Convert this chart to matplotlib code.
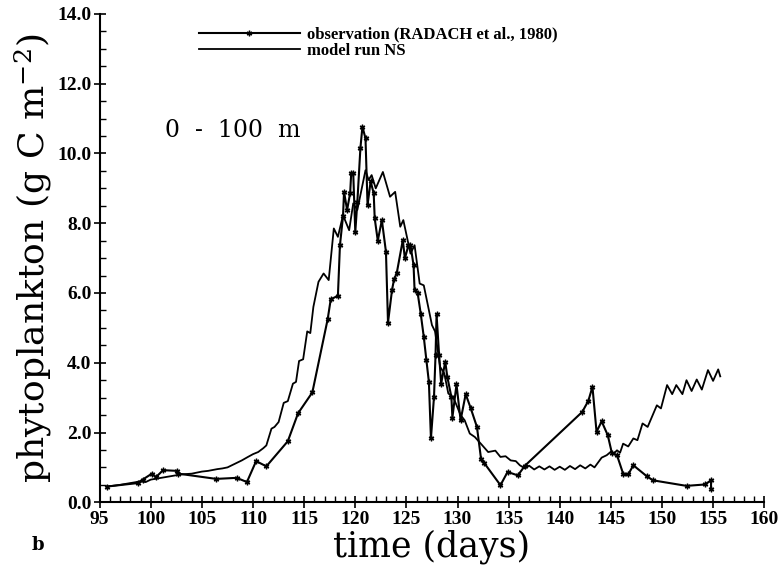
import matplotlib
matplotlib.use('Agg')
import matplotlib.pyplot as plt
from matplotlib.ticker import MultipleLocator, FormatStrFormatter

# observation (RADACH et al., 1980)
obs_day = [95.7, 98.7, 99.2, 100.1, 100.5, 101.2, 102.6, 102.7, 106.4, 108.4, 109.4,
           110.3, 111.3, 113.4, 114.4, 115.8, 117.3, 117.6, 118.3, 118.5, 118.8, 118.9,
           119.2, 119.5, 119.6, 119.8, 120.0, 120.2, 120.5, 120.7, 121.0, 121.2, 121.5,
           121.8, 121.9, 122.2, 122.6, 123.0, 123.2, 123.6, 123.8, 124.05, 124.65, 124.85,
           125.2, 125.4, 125.7, 125.8, 126.1, 126.4, 126.7, 126.95, 127.2, 127.4, 127.7,
           127.85, 127.95, 128.2, 128.4, 128.8, 129.0, 129.4, 129.5, 129.9, 130.3, 130.8,
           131.3, 131.9, 132.3, 132.6, 134.2, 134.9, 135.9, 136.6, 142.2, 142.8, 143.2,
           143.6, 144.1, 144.7, 145.1, 145.6, 146.2, 146.7, 147.2, 148.5, 149.1, 152.4,
           154.2, 154.8, 154.8]
obs_val = [0.45, 0.55, 0.65, 0.82, 0.72, 0.92, 0.90, 0.82, 0.67, 0.70, 0.58,
           1.18, 1.03, 1.75, 2.55, 3.15, 5.25, 5.82, 5.92, 7.37, 8.2, 8.9,
           8.38, 8.87, 9.43, 9.43, 7.75, 8.6, 10.15, 10.77, 10.43, 8.52, 9.2,
           8.86, 8.14, 7.5, 8.09, 7.18, 5.15, 6.1, 6.4, 6.56, 7.52, 6.99,
           7.37, 7.37, 6.8, 6.08, 6.0, 5.41, 4.74, 4.09, 3.45, 1.83, 3.02,
           4.22, 5.39, 4.22, 3.4, 4.03, 3.6, 3.02, 2.43, 3.38, 2.35, 3.1,
           2.69, 2.16, 1.25, 1.13, 0.49, 0.87, 0.77, 1.05, 2.59, 2.91, 3.31,
           2.02, 2.32, 1.92, 1.41, 1.35, 0.82, 0.8, 1.06, 0.75, 0.63, 0.47,
           0.51, 0.63, 0.39]

# model run NS
mod_day = [95.7, 97.0, 98.0, 99.0, 99.5, 100.0, 101.0, 102.0, 103.0, 104.0, 105.0,
           105.6, 106.5, 107.0, 107.5, 108.2, 108.9, 109.5, 110.0, 110.5, 111.0, 111.3,
           111.8, 112.1, 112.5, 113.0, 113.4, 113.9, 114.2, 114.5, 114.9, 115.3, 115.6,
           115.9, 116.4, 116.9, 117.4, 117.9, 118.3, 118.8, 119.4, 119.8, 120.2, 120.6,
           121.0, 121.3, 121.6, 122.0, 122.7, 123.4, 123.9, 124.4, 124.7, 125.4, 125.8,
           126.3, 126.7, 127.5, 127.8, 128.3, 128.7, 129.1, 129.6, 130.3, 130.7, 131.2,
           131.7, 132.4, 133.0, 133.7, 134.2, 134.7, 135.2, 135.7, 136.1, 136.6, 137.0,
           137.5, 138.0, 138.5, 139.0, 139.5, 140.0, 140.5, 141.0, 141.5, 142.0, 142.5,
           143.0, 143.4, 143.9, 144.1, 144.6, 145.0, 145.3, 145.6, 145.9, 146.2, 146.7,
           147.2, 147.6, 148.1, 148.6, 149.5, 149.9, 150.5, 151.0, 151.4, 152.0, 152.4,
           152.9, 153.4, 153.9, 154.5, 155.0, 155.5, 155.7]
mod_val = [0.45, 0.5, 0.55, 0.6, 0.58, 0.65, 0.7, 0.75, 0.8, 0.82, 0.88,
           0.9, 0.95, 0.97, 1.0, 1.1, 1.2, 1.3, 1.38, 1.44, 1.55, 1.63,
           2.11, 2.16, 2.3, 2.85, 2.9, 3.4, 3.45, 4.05, 4.1, 4.9, 4.85,
           5.6, 6.32, 6.56, 6.37, 7.85, 7.61, 8.23, 7.8, 8.57, 8.38, 8.95,
           9.52, 9.24, 9.38, 9.0, 9.47, 8.76, 8.9, 7.9, 8.09, 7.13, 7.37,
           6.27, 6.22, 5.08, 4.9, 3.88, 3.7, 3.12, 3.0, 2.5, 2.35, 1.97,
           1.87, 1.64, 1.44, 1.48, 1.3, 1.32, 1.2, 1.18, 1.06, 0.97, 1.05,
           0.94, 1.03, 0.94, 1.03, 0.93, 1.02, 0.93, 1.04, 0.95, 1.06, 0.97,
           1.08, 1.0, 1.2, 1.28, 1.35, 1.45, 1.4, 1.49, 1.42, 1.68, 1.6,
           1.83, 1.78, 2.26, 2.16, 2.78, 2.69, 3.36, 3.1, 3.36, 3.1, 3.5,
           3.19, 3.52, 3.23, 3.79, 3.48, 3.81, 3.61]

plt.rcParams['font.family'] = 'DejaVu Serif'
plt.rcParams['mathtext.fontset'] = 'dejavuserif'

fig = plt.figure(figsize=(7.79, 5.82), dpi=100)
ax = fig.add_axes([0.128, 0.137, 0.853, 0.839])

ax.plot(obs_day, obs_val, color='k', linewidth=1.5, marker=(6, 2, 0),
        markersize=4, markeredgewidth=1.0, label='observation (RADACH et al., 1980)')
ax.plot(mod_day, mod_val, color='k', linewidth=1.3, label='model run NS')

ax.set_xlim(95, 160)
ax.set_ylim(0, 14)
ax.xaxis.set_major_locator(MultipleLocator(5))
ax.xaxis.set_minor_locator(MultipleLocator(1))
ax.yaxis.set_major_locator(MultipleLocator(2))
ax.yaxis.set_minor_locator(MultipleLocator(0.5))
ax.yaxis.set_major_formatter(FormatStrFormatter('%.1f'))
ax.tick_params(which='major', direction='inout', length=8, width=1.2, pad=2)
ax.tick_params(which='minor', direction='in', length=4, width=1.0)
for lab in ax.get_xticklabels() + ax.get_yticklabels():
    lab.set_fontfamily('Liberation Serif')
    lab.set_fontweight('bold')
    lab.set_fontsize(14)

ax.spines['top'].set_visible(False)
ax.spines['right'].set_visible(False)
ax.spines['left'].set_linewidth(1.5)
ax.spines['bottom'].set_linewidth(1.5)

ax.set_xlabel('time (days)', fontsize=25, labelpad=1)
ax.set_ylabel('phytoplankton (g C m$^{-2}$)', fontsize=26, labelpad=2)

ax.legend(loc='upper left', bbox_to_anchor=(0.13, 1.0), frameon=False,
          handlelength=6.1, handletextpad=0.4, labelspacing=0.05,
          borderaxespad=0.35, prop={'family': 'Liberation Serif', 'weight': 'bold', 'size': 12})
ax.text(0.098, 0.762, '0  -  100  m', transform=ax.transAxes, fontsize=17, va='center')
fig.text(0.04, 0.055, 'b', fontsize=13, fontweight='bold')

fig.savefig('out.png', dpi=100)
